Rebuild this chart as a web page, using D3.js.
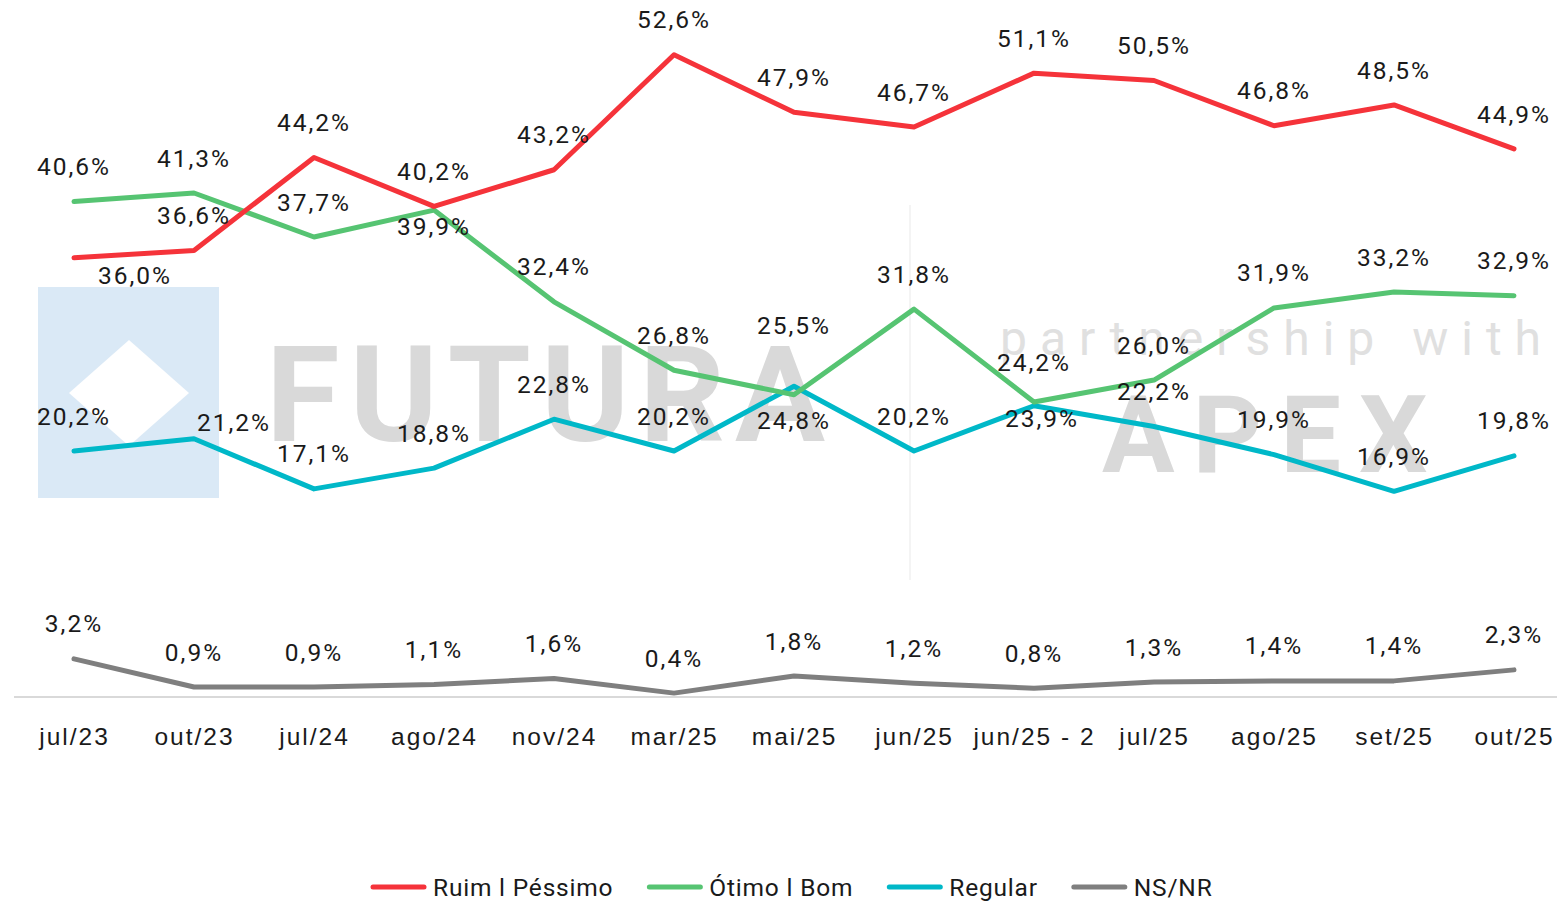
<!DOCTYPE html>
<meta charset="utf-8">
<style>

body { margin: 0; background: #fff; font-family: Roboto, "Noto Sans", sans-serif; }

.line {
  fill: none;
  stroke-width: 5;
  stroke-linecap: round;
  stroke-linejoin: round;
}

.lbl, .tick text, .legend text {
  font-size: 24.5px;
  fill: #1a1a1a;
  letter-spacing: 2px;
}

.legend text { letter-spacing: 0.8px; }

</style>
<body>

<script src="https://cdn.jsdelivr.net/npm/d3@7"></script>

<script>

var months = ["jul/23", "out/23", "jul/24", "ago/24", "nov/24", "mar/25", "mai/25",
  "jun/25", "jun/25 - 2", "jul/25", "ago/25", "set/25", "out/25"];

var ruim    = [36.0, 36.6, 44.2, 40.2, 43.2, 52.6, 47.9, 46.7, 51.1, 50.5, 46.8, 48.5, 44.9];
var otimo   = [40.6, 41.3, 37.7, 39.9, 32.4, 26.8, 24.8, 31.8, 24.2, 26.0, 31.9, 33.2, 32.9];
var regular = [20.2, 21.2, 17.1, 18.8, 22.8, 20.2, 25.5, 20.2, 23.9, 22.2, 19.9, 16.9, 19.8];
var nsnr    = [3.2, 0.9, 0.9, 1.1, 1.6, 0.4, 1.8, 1.2, 0.8, 1.3, 1.4, 1.4, 2.3];

var seriesNames = ["Ruim l Péssimo", "Ótimo l Bom", "Regular", "NS/NR"];
var seriesColors = ["#f5333a", "#56c472", "#00b8c8", "#7f7f7f"];

var series = [ruim, otimo, regular, nsnr].map(function(v, i) {
  return { name: seriesNames[i], color: seriesColors[i], values: v };
});

// label nudges where the default spot (above the point) collides
var nudge = {
  "0-0": [61, 18],
  "1-3": [0, 16],
  "1-6": [0, 26],
  "1-8": [0, -40],
  "2-1": [40, -16],
  "2-6": [0, -61],
  "2-8": [8, 13]
};

var width = 1557, height = 902;

var x = d3.scalePoint().domain(months).range([74, 1514]);
var y = d3.scaleLinear().domain([0, 57]).range([698, 1]);

var svg = d3.select("body")
  .append("svg")
    .attr("width", width)
    .attr("height", height);

// watermark
var wm = svg.append("g").attr("class", "watermark");
wm.append("rect")
  .attr("x", 38).attr("y", 287)
  .attr("width", 181).attr("height", 211)
  .attr("fill", "#dae9f6");
wm.append("path")
  .attr("d", "M129,340 L189,393 L129,446 L69,393 Z")
  .attr("fill", "#fff");
wm.append("text")
  .attr("x", 266).attr("y", 441)
  .attr("font-size", 134).attr("font-weight", 700)
  .attr("letter-spacing", 10)
  .attr("fill", "#d9d9d9")
  .text("FUTURA");
wm.append("text")
  .attr("x", 1000).attr("y", 355)
  .attr("font-size", 48)
  .attr("letter-spacing", 13)
  .attr("fill", "#e0e0e0")
  .text("partnership with");
wm.append("text")
  .attr("x", 1102).attr("y", 472)
  .attr("font-size", 108).attr("font-weight", 700)
  .attr("letter-spacing", 18)
  .attr("fill", "#d9d9d9")
  .text("APEX");
wm.append("line")
  .attr("x1", 910).attr("x2", 910)
  .attr("y1", 205).attr("y2", 580)
  .attr("stroke", "#f0f0f0")
  .attr("stroke-width", 1.5);

// x axis
var xAxis = d3.axisBottom(x).tickSize(0).tickPadding(30);
var gx = svg.append("g")
  .attr("transform", "translate(0," + y(0) + ")")
  .call(xAxis);
gx.select(".domain").remove();
gx.selectAll(".tick text").attr("font-family", null);
svg.append("line")
  .attr("x1", 14).attr("x2", width)
  .attr("y1", y(0) - 1).attr("y2", y(0) - 1)
  .attr("stroke", "#d9d9d9")
  .attr("stroke-width", 2);

var valueline = d3.line()
  .x(function(d, i) { return x(months[i]); })
  .y(function(d) { return y(d); });

svg.selectAll(".line")
  .data(series.slice().reverse())
  .enter().append("path")
    .attr("class", "line")
    .attr("stroke", function(d) { return d.color; })
    .attr("d", function(d) { return valueline(d.values); });

var fmt = function(v) { return v.toFixed(1).replace(".", ",") + "%"; };

series.forEach(function(s, si) {
  svg.append("g").selectAll("text")
    .data(s.values)
    .enter().append("text")
      .attr("class", "lbl")
      .attr("text-anchor", "middle")
      .attr("dy", "0.35em")
      .attr("x", function(d, i) {
        var n = nudge[si + "-" + i];
        return x(months[i]) + (n ? n[0] : 0);
      })
      .attr("y", function(d, i) {
        var n = nudge[si + "-" + i];
        return y(d) + (n ? n[1] : -35);
      })
      .text(fmt);
});

// legend
var legend = svg.append("g").attr("class", "legend");
var lx = 0;
series.forEach(function(s) {
  var g = legend.append("g").attr("transform", "translate(" + lx + ",0)");
  g.append("line")
    .attr("x1", 2).attr("x2", 53)
    .attr("stroke", s.color)
    .attr("stroke-width", 5)
    .attr("stroke-linecap", "round");
  var t = g.append("text")
    .attr("x", 62).attr("dy", "0.35em")
    .text(s.name);
  lx += 62 + t.node().getComputedTextLength() + 34;
});
lx -= 34;
legend.attr("transform", "translate(" + Math.round(792 - lx / 2) + ",887)");

</script>
</body>
